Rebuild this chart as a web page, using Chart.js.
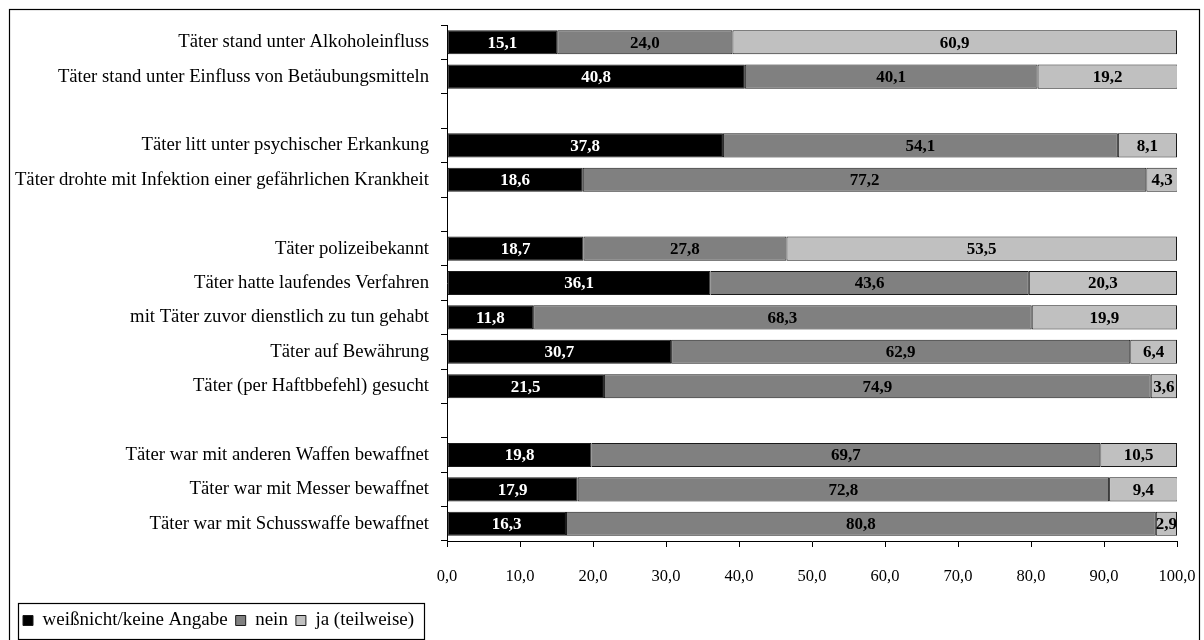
<!DOCTYPE html>
<html>
<head>
<meta charset="utf-8">
<script src="https://cdn.jsdelivr.net/npm/chart.js@4"></script>
<style>
  html, body { margin: 0; padding: 0; background: #fff; }
  #wrap { width: 1204px; height: 640px; }
</style>
</head>
<body>
<div id="wrap"><canvas id="chart" width="1204" height="640"></canvas></div>
<script>
// categories, empty strings are the gaps between groups
const categories = [
    'Täter stand unter Alkoholeinfluss',
    'Täter stand unter Einfluss von Betäubungsmitteln',
    '',
    'Täter litt unter psychischer Erkankung',
    'Täter drohte mit Infektion einer gefährlichen Krankheit',
    '',
    'Täter polizeibekannt',
    'Täter hatte laufendes Verfahren',
    'mit Täter zuvor dienstlich zu tun gehabt',
    'Täter auf Bewährung',
    'Täter (per Haftbbefehl) gesucht',
    '',
    'Täter war mit anderen Waffen bewaffnet',
    'Täter war mit Messer bewaffnet',
    'Täter war mit Schusswaffe bewaffnet'
];

const weissNicht = [15.1, 40.8, null, 37.8, 18.6, null, 18.7, 36.1, 11.8, 30.7, 21.5, null, 19.8, 17.9, 16.3];
const nein       = [24.0, 40.1, null, 54.1, 77.2, null, 27.8, 43.6, 68.3, 62.9, 74.9, null, 69.7, 72.8, 80.8];
const ja         = [60.9, 19.2, null, 8.1, 4.3, null, 53.5, 20.3, 19.9, 6.4, 3.6, null, 10.5, 9.4, 2.9];

const seriesNames = ['weißnicht/keine Angabe', 'nein', 'ja (teilweise)'];
const xTicks = [0, 10, 20, 30, 40, 50, 60, 70, 80, 90, 100];

const SERIF = "'Liberation Serif', 'Times New Roman', serif";
const fmt = v => Number(v).toFixed(1).replace('.', ',');

// value labels centred in each segment
const barLabels = {
    id: 'barLabels',
    afterDatasetsDraw(chart) {
        const ctx = chart.ctx;
        ctx.save();
        ctx.font = 'bold 17px ' + SERIF;
        ctx.textAlign = 'center';
        ctx.textBaseline = 'middle';
        chart.data.datasets.forEach((ds, i) => {
            const meta = chart.getDatasetMeta(i);
            meta.data.forEach((bar, j) => {
                const v = ds.data[j];
                if (v === null || v === undefined) return;
                ctx.fillStyle = i === 0 ? '#fff' : '#000';
                ctx.fillText(fmt(v), (bar.x + bar.base) / 2, bar.y + 1);
            });
        });
        ctx.restore();
    }
};

// outer frame and box around the legend
const frames = {
    id: 'frames',
    afterDraw(chart) {
        const ctx = chart.ctx;
        ctx.save();
        ctx.strokeStyle = '#000';
        ctx.lineWidth = 1.2;
        ctx.strokeRect(9.5, 9.5, 1190, 640);
        const boxes = chart.legend.legendHitBoxes;
        if (boxes && boxes.length) {
            const l = Math.min(...boxes.map(b => b.left)) - 5;
            const r = Math.max(...boxes.map(b => b.left + b.width)) + 10;
            const t = Math.min(...boxes.map(b => b.top)) - 8;
            const b = Math.max(...boxes.map(b => b.top + b.height)) + 9;
            ctx.strokeRect(Math.round(l) + 0.5, Math.round(t) + 0.5, Math.round(r - l), Math.round(b - t));
        }
        ctx.restore();
    }
};

const colors = ['#000000', '#808080', '#c0c0c0'];

new Chart(document.getElementById('chart'), {
    type: 'bar',
    data: {
        labels: categories,
        datasets: [weissNicht, nein, ja].map((d, i) => ({
            label: seriesNames[i],
            data: d,
            backgroundColor: colors[i],
            borderColor: '#1a1a1a',
            borderWidth: 1,
            borderSkipped: false,
            categoryPercentage: 0.7,
            barPercentage: 1.0
        }))
    },
    options: {
        indexAxis: 'y',
        responsive: false,
        animation: false,
        layout: { padding: { top: 25, right: 27, left: 15, bottom: 0 } },
        scales: {
            x: {
                stacked: true,
                min: 0,
                max: 100,
                afterBuildTicks: scale => { scale.ticks = xTicks.map(v => ({ value: v })); },
                afterFit: scale => {
                    scale.height = 62;
                    scale.paddingLeft = 0;
                    scale.paddingRight = 0;
                },
                grid: { drawOnChartArea: false, tickLength: 6, color: '#000' },
                border: { color: '#000' },
                ticks: {
                    color: '#000',
                    padding: 20,
                    maxRotation: 0,
                    font: { family: SERIF, size: 16.5 },
                    callback: v => fmt(v)
                }
            },
            y: {
                stacked: true,
                afterFit: scale => { scale.width = 432; },
                grid: { offset: true, drawOnChartArea: false, tickLength: 6, color: '#000' },
                border: { color: '#000' },
                ticks: {
                    color: '#000',
                    autoSkip: false,
                    padding: 12,
                    font: { family: SERIF, size: 18.7 }
                }
            }
        },
        plugins: {
            legend: {
                position: 'bottom',
                align: 'start',
                labels: {
                    color: '#000',
                    boxWidth: 10,
                    boxHeight: 10,
                    padding: 8,
                    font: { family: SERIF, size: 19 }
                }
            },
            tooltip: { enabled: false }
        }
    },
    plugins: [barLabels, frames]
});
</script>
</body>
</html>
